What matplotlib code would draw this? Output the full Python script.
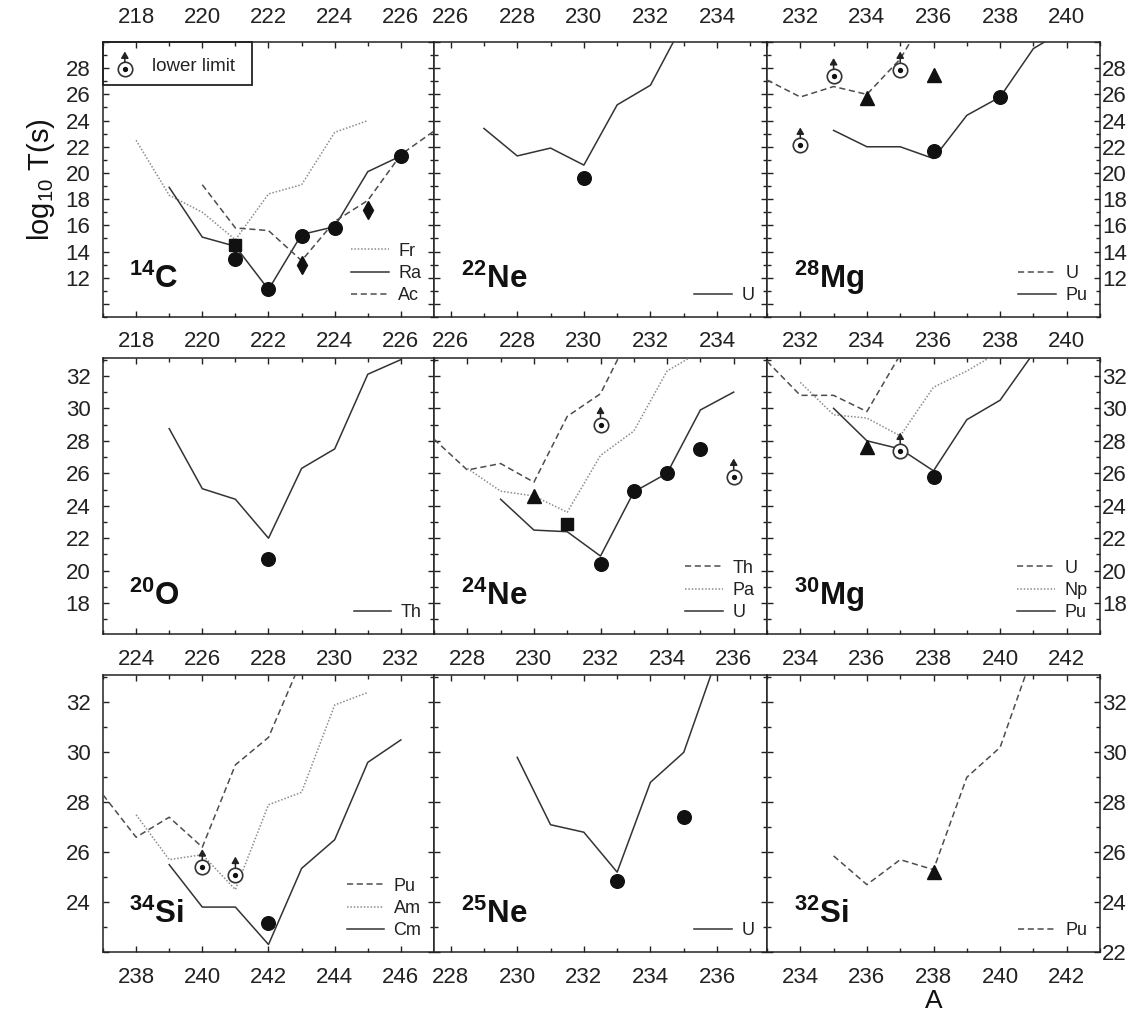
import matplotlib
matplotlib.use("Agg")
import matplotlib.pyplot as plt
from matplotlib.ticker import MultipleLocator, FuncFormatter
from matplotlib.transforms import offset_copy
from matplotlib.lines import Line2D
from matplotlib.patches import Rectangle

plt.rcParams["font.family"] = ["Liberation Sans", "DejaVu Sans"]
plt.rcParams["mathtext.fontset"] = "custom"
plt.rcParams["mathtext.rm"] = "Liberation Sans"
plt.rcParams["mathtext.bf"] = "Liberation Sans:bold"
plt.rcParams["mathtext.it"] = "Liberation Sans:italic"

# ---------------- data: log10 T(s) versus parent mass number A ----------------
# 14C emission
c14_fr_A = [218, 219, 220, 221, 222, 223, 224, 225]
c14_fr_T = [22.5, 18.3, 17.0, 14.9, 18.4, 19.1, 23.1, 24.0]
c14_ra_A = [219, 220, 221, 222, 223, 224, 225, 226]
c14_ra_T = [18.9, 15.1, 14.4, 11.1, 15.3, 15.9, 20.1, 21.3]
c14_ac_A = [220, 221, 222, 223, 224, 225, 226, 227]
c14_ac_T = [19.1, 15.8, 15.6, 13.3, 16.3, 17.9, 21.4, 23.2]
c14_circ_A = [221, 222, 223, 224, 226]
c14_circ_T = [13.4, 11.1, 15.2, 15.8, 21.3]
c14_sq_A = [221]
c14_sq_T = [14.5]
c14_dia_A = [223, 225]
c14_dia_T = [13.0, 17.2]

# 22Ne emission
ne22_u_A = [227, 228, 229, 230, 231, 232, 233]
ne22_u_T = [23.4, 21.3, 21.9, 20.6, 25.2, 26.7, 31.5]
ne22_circ_A = [230]
ne22_circ_T = [19.6]

# 28Mg emission
mg28_u_A = [231, 232, 233, 234, 235, 236]
mg28_u_T = [27.1, 25.8, 26.6, 26.0, 28.7, 33.0]
mg28_pu_A = [233, 234, 235, 236, 237, 238, 239, 240]
mg28_pu_T = [23.25, 22.0, 22.0, 21.1, 24.4, 25.8, 29.5, 31.0]
mg28_circ_A = [236, 238]
mg28_circ_T = [21.7, 25.8]
mg28_tri_A = [234, 236]
mg28_tri_T = [25.7, 27.5]
mg28_low_A = [232, 233, 235]
mg28_low_T = [22.1, 27.4, 27.9]

# 20O emission
o20_th_A = [225, 226, 227, 228, 229, 230, 231, 232]
o20_th_T = [28.75, 25.05, 24.4, 22.0, 26.3, 27.5, 32.1, 33.0]
o20_circ_A = [228]
o20_circ_T = [20.75]

# 24Ne emission
ne24_th_A = [227, 228, 229, 230, 231, 232, 233]
ne24_th_T = [28.1, 26.2, 26.6, 25.45, 29.5, 30.9, 35.0]
ne24_pa_A = [228, 229, 230, 231, 232, 233, 234, 235]
ne24_pa_T = [26.3, 24.9, 24.6, 23.6, 27.1, 28.6, 32.3, 33.5]
ne24_u_A = [229, 230, 231, 232, 233, 234, 235, 236]
ne24_u_T = [24.4, 22.5, 22.4, 20.9, 24.85, 26.0, 29.9, 31.0]
ne24_circ_A = [232, 233, 234, 235]
ne24_circ_T = [20.4, 24.9, 26.0, 27.5]
ne24_tri_A = [230]
ne24_tri_T = [24.6]
ne24_sq_A = [231]
ne24_sq_T = [22.9]
ne24_low_A = [232, 236]
ne24_low_T = [29.0, 25.8]

# 30Mg emission
mg30_u_A = [233, 234, 235, 236, 237]
mg30_u_T = [32.9, 30.8, 30.8, 29.8, 33.3]
mg30_np_A = [234, 235, 236, 237, 238, 239, 240]
mg30_np_T = [31.6, 29.6, 29.4, 28.3, 31.3, 32.3, 33.5]
mg30_pu_A = [235, 236, 237, 238, 239, 240, 241]
mg30_pu_T = [30.0, 28.0, 27.5, 26.15, 29.3, 30.5, 33.4]
mg30_circ_A = [238]
mg30_circ_T = [25.75]
mg30_tri_A = [236]
mg30_tri_T = [27.6]
mg30_low_A = [237]
mg30_low_T = [27.4]

# 34Si emission
si34_pu_A = [237, 238, 239, 240, 241, 242, 243]
si34_pu_T = [28.3, 26.6, 27.4, 26.2, 29.5, 30.6, 33.7]
si34_am_A = [238, 239, 240, 241, 242, 243, 244, 245]
si34_am_T = [27.5, 25.7, 25.9, 24.5, 27.9, 28.4, 31.9, 32.4]
si34_cm_A = [239, 240, 241, 242, 243, 244, 245, 246]
si34_cm_T = [25.5, 23.8, 23.8, 22.3, 25.35, 26.5, 29.6, 30.5]
si34_circ_A = [242]
si34_circ_T = [23.15]
si34_low_A = [240, 241]
si34_low_T = [25.4, 25.1]

# 25Ne emission
ne25_u_A = [230, 231, 232, 233, 234, 235, 236]
ne25_u_T = [29.8, 27.1, 26.8, 25.2, 28.8, 30.0, 33.8]
ne25_circ_A = [233, 235]
ne25_circ_T = [24.85, 27.4]

# 32Si emission
si32_pu_A = [235, 236, 237, 238, 239, 240, 241]
si32_pu_T = [25.85, 24.7, 25.7, 25.3, 29.0, 30.2, 34.0]
si32_tri_A = [238]
si32_tri_T = [25.2]

# ---------------- panel definitions ----------------
panels = [
    dict(label=("14", "C"), xlim=(217, 227), ylim=(9, 30), ylab=(12, 28),
         series=[("Fr", "dotted", c14_fr_A, c14_fr_T),
                 ("Ra", "solid", c14_ra_A, c14_ra_T),
                 ("Ac", "dashed", c14_ac_A, c14_ac_T)],
         points=[("circle", c14_circ_A, c14_circ_T),
                 ("square", c14_sq_A, c14_sq_T),
                 ("diamond", c14_dia_A, c14_dia_T)]),
    dict(label=("22", "Ne"), xlim=(225.5, 235.5), ylim=(9, 30), ylab=(12, 28),
         series=[("U", "solid", ne22_u_A, ne22_u_T)],
         points=[("circle", ne22_circ_A, ne22_circ_T)]),
    dict(label=("28", "Mg"), xlim=(231, 241), ylim=(9, 30), ylab=(12, 28),
         series=[("U", "dashed", mg28_u_A, mg28_u_T),
                 ("Pu", "solid", mg28_pu_A, mg28_pu_T)],
         points=[("circle", mg28_circ_A, mg28_circ_T),
                 ("triangle", mg28_tri_A, mg28_tri_T),
                 ("lower", mg28_low_A, mg28_low_T)]),
    dict(label=("20", "O"), xlim=(223, 233), ylim=(16.1, 33.1), ylab=(18, 32),
         series=[("Th", "solid", o20_th_A, o20_th_T)],
         points=[("circle", o20_circ_A, o20_circ_T)]),
    dict(label=("24", "Ne"), xlim=(227, 237), ylim=(16.1, 33.1), ylab=(18, 32),
         series=[("Th", "dashed", ne24_th_A, ne24_th_T),
                 ("Pa", "dotted", ne24_pa_A, ne24_pa_T),
                 ("U", "solid", ne24_u_A, ne24_u_T)],
         points=[("circle", ne24_circ_A, ne24_circ_T),
                 ("triangle", ne24_tri_A, ne24_tri_T),
                 ("square", ne24_sq_A, ne24_sq_T),
                 ("lower", ne24_low_A, ne24_low_T)]),
    dict(label=("30", "Mg"), xlim=(233, 243), ylim=(16.1, 33.1), ylab=(18, 32),
         series=[("U", "dashed", mg30_u_A, mg30_u_T),
                 ("Np", "dotted", mg30_np_A, mg30_np_T),
                 ("Pu", "solid", mg30_pu_A, mg30_pu_T)],
         points=[("circle", mg30_circ_A, mg30_circ_T),
                 ("triangle", mg30_tri_A, mg30_tri_T),
                 ("lower", mg30_low_A, mg30_low_T)]),
    dict(label=("34", "Si"), xlim=(237, 247), ylim=(22, 33.1), ylab=(24, 32),
         series=[("Pu", "dashed", si34_pu_A, si34_pu_T),
                 ("Am", "dotted", si34_am_A, si34_am_T),
                 ("Cm", "solid", si34_cm_A, si34_cm_T)],
         points=[("circle", si34_circ_A, si34_circ_T),
                 ("lower", si34_low_A, si34_low_T)]),
    dict(label=("25", "Ne"), xlim=(227.5, 237.5), ylim=(22, 33.1), ylab=(22, 32),
         series=[("U", "solid", ne25_u_A, ne25_u_T)],
         points=[("circle", ne25_circ_A, ne25_circ_T)]),
    dict(label=("32", "Si"), xlim=(233, 243), ylim=(22, 33.1), ylab=(22, 32),
         series=[("Pu", "dashed", si32_pu_A, si32_pu_T)],
         points=[("triangle", si32_tri_A, si32_tri_T)]),
]

LINE = {
    "solid": dict(color="#333333", ls="-", lw=1.1),
    "dashed": dict(color="#4d4d4d", ls=(0, (4.0, 2.4)), lw=1.1),
    "dotted": dict(color="#8c8c8c", ls=(0, (1.0, 1.2)), lw=1.1),
}
MARK = {
    "circle": dict(marker="o", ms=9.8),
    "square": dict(marker="s", ms=8.6),
    "triangle": dict(marker="^", ms=9.6),
    "diamond": dict(marker="d", ms=9.2),
}

# ---------------- layout (pixels in a 1139 x 1014 canvas) ----------------
W, H = 1139, 1014
col_left = [103, 434, 767]
col_w = [331, 333, 333]
row_top = [42, 358, 675]
row_h = [275, 276, 277]

fig = plt.figure(figsize=(W / 100, H / 100), dpi=100)
fig.patch.set_facecolor("white")


def draw_lower_limit(ax, A, T, transform):
    """Open circle with a central dot and an upward arrow (lower bound)."""
    ax.plot(A, T, ls="none", marker="o", ms=10.4, mfc="white", mec="#333333",
            mew=1.2, transform=transform, zorder=6, clip_on=False)
    ax.plot(A, T, ls="none", marker="o", ms=2.8, color="#111111",
            transform=transform, zorder=7, clip_on=False)
    for a, t in zip(A, T):
        ax.annotate("", xy=(a, t),
                    xycoords=offset_copy(transform, fig=fig, y=13.0, units="points"),
                    xytext=(a, t),
                    textcoords=offset_copy(transform, fig=fig, y=5.2, units="points"),
                    arrowprops=dict(arrowstyle="-|>,head_length=0.38,head_width=0.22",
                                    color="#222222", lw=1.1, shrinkA=0, shrinkB=0),
                    zorder=7)


for i, p in enumerate(panels):
    r, c = divmod(i, 3)
    ax = fig.add_axes([col_left[c] / W, 1 - (row_top[r] + row_h[r]) / H,
                       col_w[c] / W, row_h[r] / H])
    ax.set_xlim(*p["xlim"])
    ax.set_ylim(*p["ylim"])

    handles = []
    for name, style, A, T in p["series"]:
        ax.plot(A, T, zorder=3, **LINE[style])
        handles.append(Line2D([], [], label=name, **LINE[style]))

    for kind, A, T in p["points"]:
        if kind == "lower":
            draw_lower_limit(ax, A, T, ax.transData)
        else:
            ax.plot(A, T, ls="none", color="#111111", zorder=5, **MARK[kind])

    # isotope label
    mass, sym = p["label"]
    ax.text(0.08, 0.105, r"$^{\mathbf{%s}}$%s" % (mass, sym), transform=ax.transAxes,
            fontsize=22.5, fontweight="bold", ha="left", va="baseline", color="#111111")

    leg = ax.legend(handles=handles, loc="lower right", frameon=False, fontsize=13,
                    handlelength=2.1, handletextpad=0.5, labelspacing=0.3,
                    borderaxespad=0.35, borderpad=0.35)
    for t in leg.get_texts():
        t.set_color("#222222")

    # ticks
    ax.xaxis.set_major_locator(MultipleLocator(2))
    ax.xaxis.set_minor_locator(MultipleLocator(1))
    ax.yaxis.set_major_locator(MultipleLocator(2))
    ax.yaxis.set_minor_locator(MultipleLocator(1))
    lo, hi = p["ylab"]
    ax.yaxis.set_major_formatter(FuncFormatter(
        lambda v, pos, lo=lo, hi=hi: f"{v:.0f}" if lo - 0.01 <= v <= hi + 0.01 else ""))
    ax.xaxis.set_major_formatter(FuncFormatter(lambda v, pos: f"{v:.0f}"))

    ax.tick_params(which="both", direction="in", top=True, right=True,
                   width=1.0, color="#222222", labelsize=16, labelcolor="#222222")
    ax.tick_params(which="major", length=4.2)
    ax.tick_params(which="minor", length=3.2)
    ax.tick_params(axis="x", which="both", pad=10.5, labeltop=(r == 0))
    if r == 0:
        ax.tick_params(axis="x", which="both", pad=10.0)
    ax.tick_params(axis="y", which="both", labelleft=(c == 0), labelright=(c == 2))
    if c == 0:
        ax.tick_params(axis="y", which="both", pad=9.0)
    elif c == 2:
        ax.tick_params(axis="y", which="both", pad=1.5)

    for s in ax.spines.values():
        s.set_linewidth(1.1)
        s.set_color("#222222")

    if i == 0:
        ax.set_ylabel(r"log$_{10}$ T(s)", fontsize=21, labelpad=6, color="#111111")
        ax.add_patch(Rectangle((0, 0.843), 0.45, 0.157, transform=ax.transAxes,
                               fill=False, lw=1.3, ec="#222222", clip_on=False, zorder=8))
        draw_lower_limit(ax, [0.066], [0.9], ax.transAxes)
        ax.text(0.148, 0.912, "lower limit", transform=ax.transAxes, fontsize=13.5,
                va="center", ha="left", color="#222222")
    if i == 8:
        ax.set_xlabel("A", fontsize=19, color="#111111")
        ax.xaxis.label.set_va("bottom")
        ax.xaxis.set_label_coords(0.5, -(1013 - 952) / 277)

fig.savefig("out.png", dpi=100, facecolor="white")
